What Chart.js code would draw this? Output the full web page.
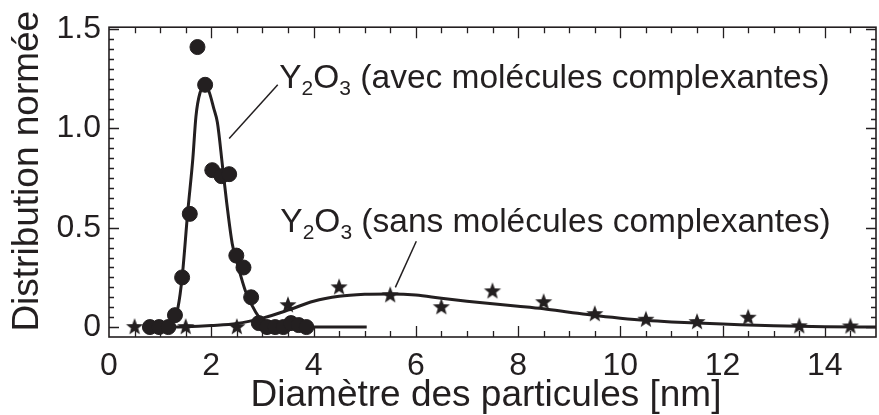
<!DOCTYPE html>
<html>
<head>
<meta charset="utf-8">
<script src="https://cdn.jsdelivr.net/npm/chart.js@4/dist/chart.umd.min.js"></script>
<style>
  html, body { margin: 0; padding: 0; background: #fff; overflow: hidden; }
</style>
</head>
<body>
<canvas id="chart" width="886" height="415"></canvas>
<script>
// Measured points, Y2O3 with complexing molecules (circles)
const avecX = [0.80, 0.98, 1.16, 1.29, 1.43, 1.58, 1.73, 1.88, 2.02, 2.20, 2.35, 2.49, 2.63, 2.78, 2.93, 3.09, 3.25, 3.41, 3.56, 3.71, 3.86];
const avecY = [0, 0, 0, 0.06, 0.25, 0.57, 1.41, 1.22, 0.79, 0.76, 0.77, 0.36, 0.30, 0.15, 0.02, 0, 0, 0, 0.02, 0.01, 0];

// Measured points, Y2O3 without complexing molecules (stars)
const sansX = [0.5, 1.5, 2.5, 3.5, 4.5, 5.5, 6.5, 7.5, 8.5, 9.5, 10.5, 11.5, 12.5, 13.5, 14.5];
const sansY = [0, 0, 0, 0.11, 0.20, 0.16, 0.10, 0.18, 0.125, 0.065, 0.037, 0.025, 0.047, 0.004, 0.003];

// Fitted curves
const avecCurveX = [1.0, 1.15, 1.22, 1.29, 1.35, 1.43, 1.54, 1.64, 1.70, 1.78, 1.88, 1.95, 2.05, 2.12, 2.22, 2.30, 2.41, 2.51, 2.67, 2.87, 3.06, 3.3, 3.6, 5.04];
const avecCurveY = [0, 0.003, 0.02, 0.055, 0.10, 0.25, 0.58, 0.85, 1.06, 1.18, 1.21, 1.19, 1.10, 1.03, 0.81, 0.63, 0.42, 0.32, 0.18, 0.075, 0.017, 0.003, 0, 0];

const sansCurveX = [1.0, 1.5, 2.0, 2.5, 3.0, 3.5, 4.0, 4.5, 5.0, 5.5, 6.0, 6.5, 7.0, 7.5, 8.0, 8.5, 9.0, 9.5, 10.0, 10.5, 11.0, 11.5, 12.0, 12.5, 13.0, 13.5, 14.0, 15.0];
const sansCurveY = [0, 0.002, 0.008, 0.018, 0.045, 0.085, 0.13, 0.155, 0.165, 0.167, 0.162, 0.145, 0.13, 0.117, 0.105, 0.092, 0.075, 0.058, 0.045, 0.034, 0.026, 0.02, 0.015, 0.011, 0.007, 0.004, 0.002, 0];

// Tick labels
const xTicks = [0, 2, 4, 6, 8, 10, 12, 14];
const yTicks = [0, 0.5, 1.0, 1.5];

const xTitle = "Diamètre des particules [nm]";
const yTitle = "Distribution normée";

const ink = "#231f20";
const fontFamily = "'Liberation Sans', Arial, sans-serif";
Chart.defaults.font.family = fontFamily;
Chart.defaults.color = ink;

const toXY = (xs, ys) => xs.map((v, i) => ({ x: v, y: ys[i] }));

// Filled five point star used as point style
function makeStar(r) {
  const c = document.createElement("canvas");
  const size = Math.ceil(r * 2 + 2);
  c.width = size;
  c.height = size;
  const g = c.getContext("2d");
  g.translate(size / 2, size / 2);
  g.beginPath();
  for (let i = 0; i < 10; i++) {
    const rad = i % 2 === 0 ? r : r * 0.42;
    const a = -Math.PI / 2 + (i * Math.PI) / 5;
    g.lineTo(Math.cos(a) * rad, Math.sin(a) * rad);
  }
  g.closePath();
  g.fillStyle = ink;
  g.fill();
  return c;
}

// Text labels with leader lines (data coordinates)
const notes = [
  {
    parts: [["Y", false], ["2", true], ["O", false], ["3", true], [" (avec molécules complexantes)", false]],
    at: [3.33, 1.205],
    from: [3.30, 1.22],
    to: [2.35, 0.95],
  },
  {
    parts: [["Y", false], ["2", true], ["O", false], ["3", true], [" (sans molécules complexantes)", false]],
    at: [3.35, 0.478],
    from: [6.01, 0.432],
    to: [5.60, 0.20],
  },
];

const notesPlugin = {
  id: "notes",
  afterDraw(chart) {
    const { ctx, chartArea: a, scales: { x, y } } = chart;
    ctx.save();
    ctx.fillStyle = ink;
    ctx.strokeStyle = ink;
    ctx.lineWidth = 1.5;
    ctx.textBaseline = "alphabetic";
    ctx.textAlign = "left";
    notes.forEach((n) => {
      let px = x.getPixelForValue(n.at[0]);
      const py = y.getPixelForValue(n.at[1]);
      n.parts.forEach(([txt, sub]) => {
        ctx.font = (sub ? "21px " : "33.5px ") + fontFamily;
        ctx.fillText(txt, px, sub ? py + 7 : py);
        px += ctx.measureText(txt).width;
      });
      ctx.beginPath();
      ctx.moveTo(x.getPixelForValue(n.from[0]), y.getPixelForValue(n.from[1]));
      ctx.lineTo(x.getPixelForValue(n.to[0]), y.getPixelForValue(n.to[1]));
      ctx.stroke();
    });

    // axis titles
    ctx.font = "37px " + fontFamily;
    ctx.textAlign = "center";
    ctx.textBaseline = "middle";
    ctx.fillText(xTitle, a.left + 377, 396);
    ctx.translate(28, a.top + 144);
    ctx.rotate(-Math.PI / 2);
    ctx.fillText(yTitle, 0, 0);
    ctx.restore();
  },
};

// Box frame with inward ticks on all four sides
const framePlugin = {
  id: "frame",
  afterDraw(chart) {
    const { ctx, chartArea: a, scales: { x, y } } = chart;
    ctx.save();
    ctx.strokeStyle = ink;
    ctx.lineWidth = 1.6;
    ctx.strokeRect(a.left, a.top, a.right - a.left, a.bottom - a.top);
    ctx.lineWidth = 1.3;
    ctx.beginPath();
    for (let i = 1; i * 0.5 < x.max; i++) {
      const px = Math.round(x.getPixelForValue(i * 0.5)) + 0.5;
      const len = i % 4 === 0 ? 11 : 6;
      ctx.moveTo(px, a.bottom);
      ctx.lineTo(px, a.bottom - len);
      ctx.moveTo(px, a.top);
      ctx.lineTo(px, a.top + len);
    }
    for (let i = 0; i * 0.05 < y.max; i++) {
      const py = Math.round(y.getPixelForValue(i * 0.05)) + 0.5;
      const len = i % 10 === 0 ? 10 : 5;
      ctx.moveTo(a.left, py);
      ctx.lineTo(a.left + len, py);
      ctx.moveTo(a.right, py);
      ctx.lineTo(a.right - len, py);
    }
    ctx.stroke();
    ctx.restore();
  },
};

const starImg = makeStar(9);

new Chart(document.getElementById("chart"), {
  type: "scatter",
  data: {
    datasets: [
      {
        data: toXY(avecX, avecY),
        pointStyle: "circle",
        pointRadius: 7.5,
        backgroundColor: ink,
        borderColor: ink,
        showLine: false,
        order: 0,
      },
      {
        data: toXY(sansX, sansY),
        pointStyle: starImg,
        pointRadius: 9,
        showLine: false,
        order: 0,
      },
      {
        type: "line",
        data: toXY(avecCurveX, avecCurveY),
        borderColor: ink,
        borderWidth: 3,
        pointRadius: 0,
        cubicInterpolationMode: "monotone",
        fill: false,
        order: 1,
      },
      {
        type: "line",
        data: toXY(sansCurveX, sansCurveY),
        borderColor: ink,
        borderWidth: 3,
        pointRadius: 0,
        cubicInterpolationMode: "monotone",
        fill: false,
        order: 1,
      },
    ],
  },
  options: {
    responsive: false,
    animation: false,
    layout: { padding: { left: 0, top: 24, right: 2, bottom: 0 } },
    plugins: { legend: { display: false }, tooltip: { enabled: false } },
    scales: {
      x: {
        type: "linear",
        min: 0,
        max: 15,
        grid: { display: false, drawTicks: false },
        border: { display: false },
        afterBuildTicks: (s) => { s.ticks = xTicks.map((v) => ({ value: v })); },
        afterFit: (s) => { s.height = 78; },
        ticks: {
          padding: 10,
          maxRotation: 0,
          autoSkip: false,
          color: ink,
          font: { size: 32 },
          callback: (v) => String(v),
        },
      },
      y: {
        min: -0.05,
        max: 1.51,
        grid: { display: false, drawTicks: false },
        border: { display: false },
        afterBuildTicks: (s) => { s.ticks = yTicks.map((v) => ({ value: v })); },
        afterFit: (s) => { s.width = 109; },
        ticks: {
          padding: 8,
          color: ink,
          font: { size: 32 },
          callback: (v) => (v === 0 ? "0" : v.toFixed(1)),
        },
      },
    },
  },
  plugins: [framePlugin, notesPlugin],
});
</script>
</body>
</html>
